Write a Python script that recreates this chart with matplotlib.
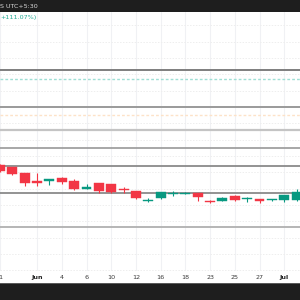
import matplotlib
matplotlib.use("Agg")
import matplotlib.pyplot as plt
from matplotlib.patches import Rectangle

# ---- data ----
opens  = [517.5, 516.35, 513.35, 509.65, 509.35, 510.85, 509.5, 505.5, 508.35, 507.85, 505.5, 504.5,
          499.35, 500.85, 503.0, 503.15, 503.65, 499.25, 499.65, 502.0, 500.35, 500.5, 500.0, 500.0, 500.0]
highs  = [518.0, 516.5, 513.5, 513.35, 510.5, 511.65, 510.35, 508.15, 508.5, 508.0, 506.65, 504.75,
          501.15, 504.0, 504.65, 504.25, 503.75, 500.0, 501.65, 502.5, 501.35, 500.75, 500.5, 502.5, 505.5]
lows   = [514.0, 512.5, 507.25, 507.15, 507.5, 508.0, 505.25, 505.5, 503.65, 503.5, 503.65, 500.75,
          498.85, 500.75, 502.0, 503.0, 499.65, 498.35, 499.5, 499.75, 499.0, 498.65, 499.75, 498.85, 499.35]
closes = [514.65, 512.85, 508.35, 508.65, 510.35, 509.15, 505.5, 506.65, 504.5, 504.15, 505.15, 500.85,
          500.0, 503.85, 503.5, 503.65, 501.35, 499.0, 500.85, 500.0, 500.85, 499.5, 500.35, 502.35, 504.15]

tick_idx    = [0, 3, 5, 7, 9, 11, 13, 15, 17, 19, 21, 23]
tick_labels = ["31", "Jun", "4", "6", "10", "12", "16", "18", "23", "25", "27", "Jul"]

level_prices = [565.25, 546.65, 535.0, 526.0, 517.0, 503.5, 486.5]
level_colors = ["#7e7e7e", "#9a9a9a", "#c4c4c4", "#a0a0a0", "#8a8a8a", "#8a8a8a", "#b0b0b0"]
level_widths = [1.4, 1.4, 1.6, 1.3, 1.3, 1.3, 1.3]
dotted_prices = [560.65, 542.5]
dotted_colors = ["#9fdfd5", "#fde2c8"]

header_text = "S UTC+5:30"
change_text = "+111.07%)"

UP = "#089981"
DOWN = "#f23645"

# ---- figure ----
fig = plt.figure(figsize=(3, 3), dpi=100)
fig.patch.set_facecolor("white")

ax = fig.add_axes([0, 29 / 300, 1, 259 / 300])
ax.set_facecolor("white")
ax.set_xlim(0.1608, 24.277)
ax.set_ylim(600 - 0.5 * 271, 600 - 0.5 * 12)
for s in ax.spines.values():
    s.set_visible(False)

# grid
for i in tick_idx:
    ax.axvline(i, color="#f0f1f4", lw=0.8, zorder=0)
for k in range(-2, 14):
    yv = 600 - 0.5 * (58 + 16.33 * k)
    ax.axhline(yv, color="#eeeeee", lw=0.7, ls=(0, (1.5, 1.5)), zorder=0)

# horizontal levels
for p, c, w in zip(level_prices, level_colors, level_widths):
    ax.axhline(p, color=c, lw=w, zorder=1)
for p, c in zip(dotted_prices, dotted_colors):
    ax.axhline(p, color=c, lw=1.0, ls=(0, (2, 1.5)), zorder=1)

# candles
width = 0.8
for i, (o, h, l, c) in enumerate(zip(opens, highs, lows, closes)):
    col = UP if c >= o else DOWN
    ax.vlines(i, l, h, color=col, lw=0.8, zorder=3)
    bot = min(o, c)
    hgt = max(abs(c - o), 0.5)
    ax.add_patch(Rectangle((i - width / 2, bot), width, hgt, facecolor=col,
                           edgecolor=col, lw=0.3, zorder=4))

ax.set_xticks(tick_idx)
ax.set_xticklabels(tick_labels)
ax.tick_params(axis="x", length=0, pad=3, labelsize=4.6, colors="#3a3a3a")
for lab in ax.get_xticklabels():
    if lab.get_text() in ("Jun", "Jul"):
        lab.set_fontweight("bold")
        lab.set_color("#222222")
ax.set_yticks([])

# header / footer bands
fig.patches.append(Rectangle((0, 288 / 300), 1, 12 / 300, transform=fig.transFigure,
                             facecolor="#1e1e1e", edgecolor="none", zorder=5))
fig.patches.append(Rectangle((0, 0), 1, 17 / 300, transform=fig.transFigure,
                             facecolor="#1e1e1e", edgecolor="none", zorder=5))
fig.patches.append(Rectangle((0, 16.5 / 300), 1, 1 / 300, transform=fig.transFigure,
                             facecolor="#5a5a5a", edgecolor="none", zorder=6))
fig.text(0.0, 294 / 300, header_text, color="#d8d8d8", fontsize=4.6,
         va="center", ha="left", zorder=7)
fig.text(0.0, 282 / 300, change_text, color="#22ab94", fontsize=4.6,
         va="center", ha="left", zorder=7)

fig.savefig("out.png", dpi=100, facecolor="white")
